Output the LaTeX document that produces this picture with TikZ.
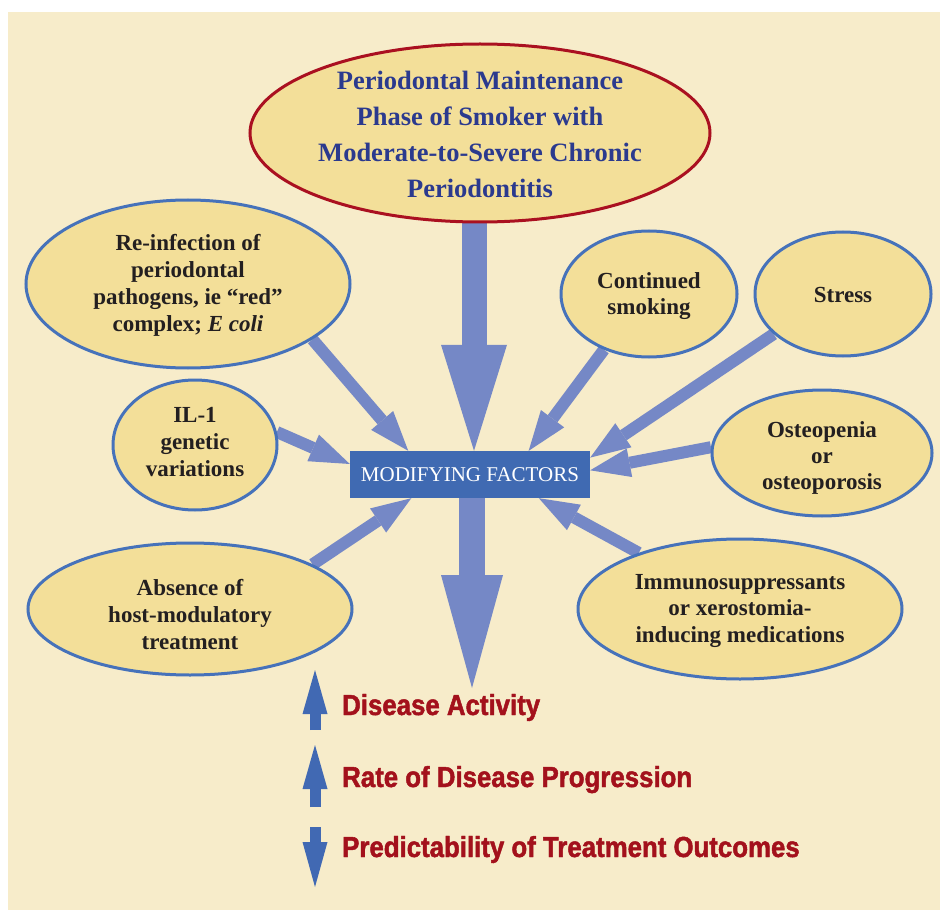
\documentclass[tikz,border=0pt]{standalone}
\usepackage{fontspec}
\setmainfont{Liberation Serif}
\newfontfamily\legendfont[FakeStretch=0.89,FakeBold=1.6]{Liberation Sans Bold}
\usetikzlibrary{shapes.geometric,arrows.meta,calc}
\definecolor{bgcream}{HTML}{F7ECCA}
\definecolor{ellfill}{HTML}{F3DF99}
\definecolor{bordblue}{HTML}{4672BA}
\definecolor{bordred}{HTML}{AA1020}
\definecolor{arrlight}{HTML}{7588C6}
\definecolor{boxblue}{HTML}{406AB2}
\definecolor{legblue}{HTML}{4169B3}
\definecolor{legred}{HTML}{A3111C}
\definecolor{topblue}{HTML}{2B3A8E}
\definecolor{darktext}{HTML}{231F20}
\pgfdeclarelayer{bglayer}
\pgfdeclarelayer{arrlayer}
\pgfsetlayers{bglayer,arrlayer,main}
\begin{document}
\begin{tikzpicture}[x=1pt,y=-1pt,
  factor/.style={ellipse, draw=bordblue, line width=3pt, fill=ellfill, inner sep=0pt},
  lbl/.style={align=center, text=darktext, inner sep=0pt, font=\fontsize{23}{27}\selectfont\bfseries},
  toplbl/.style={align=center, text=topblue, inner sep=0pt, font=\fontsize{26.5}{36}\selectfont\bfseries},
  feed/.style={draw=arrlight, line width=12pt, -{Triangle[length=40pt,width=29pt,line width=0pt]}},
  bigarrow/.style={draw=arrlight, line width=25pt, -{Triangle[length=106pt,width=66pt,line width=0pt]}},
  legarrow/.style={draw=legblue, line width=11pt, -{Triangle[length=44pt,width=25pt,line width=0pt]}},
  legtext/.style={anchor=base west, inner sep=0pt, text=legred, font=\legendfont\fontsize{29}{34}\selectfont}
]
\useasboundingbox (0,0) rectangle (940,912);
\begin{pgfonlayer}{bglayer}
  \fill[white] (0,0) rectangle (940,912);
  \fill[bgcream] (8,12) rectangle (940,910);
\end{pgfonlayer}

% ellipses
\node[factor, draw=bordred, minimum width=460pt, minimum height=178pt] (top) at (480,133) {};
\node[toplbl] (toptext) at (480,134) {Periodontal Maintenance\\Phase of Smoker with\\Moderate-to-Severe Chronic\\Periodontitis};

\node[factor, minimum width=324pt, minimum height=168pt] (reinf) at (188,284) {};
\node[lbl] (reinftext) at (188,285) {Re-infection of\\periodontal\\pathogens, ie “red”\\complex; \textit{E coli}};

\node[factor, minimum width=164pt, minimum height=130pt] (il) at (195,445) {};
\node[lbl] (iltext) at (195,442.5) {IL-1\\genetic\\variations};

\node[factor, minimum width=324pt, minimum height=132pt] (absence) at (190,609) {};
\node[lbl] (absencetext) at (190,615) {Absence of\\host-modulatory\\treatment};

\node[factor, minimum width=176pt, minimum height=126pt] (smoke) at (649,294) {};
\node[lbl, font=\fontsize{23}{26}\selectfont\bfseries] (smoketext) at (649,296) {Continued\\smoking};

\node[factor, minimum width=176pt, minimum height=124pt] (stress) at (843,294) {};
\node[lbl] (stresstext) at (843,295) {Stress};

\node[factor, minimum width=220pt, minimum height=126pt] (osteo) at (822,453) {};
\node[lbl, font=\fontsize{23}{26}\selectfont\bfseries] (osteotext) at (822,458) {Osteopenia\\or\\osteoporosis};

\node[factor, minimum width=324pt, minimum height=140pt] (immuno) at (740,609) {};
\node[lbl, font=\fontsize{23}{26.5}\selectfont\bfseries] (immunotext) at (740,611) {Immunosuppressants\\or xerostomia-\\inducing medications};

% central box
\node[fill=boxblue, text=white, minimum width=240pt, minimum height=47pt, inner sep=0pt,
      font=\fontsize{21}{24}\selectfont] (box) at (470,474.5) {MODIFYING FACTORS};

\coordinate (outcome) at (472,688);

% arrows
\begin{pgfonlayer}{arrlayer}
  \draw[bigarrow] ($(top.south)+(-6,0)$) -- ($(box.north)+(4,0)$);
  \draw[bigarrow, line width=26pt, -{Triangle[length=113pt,width=62pt,line width=0pt]}] ($(box.south)+(2,0)$) -- (outcome);
  \draw[feed] (reinf.-24) -- (box.159);
  \draw[feed] (il.9) -- (box.175);
  \draw[feed] (absence.20) -- (box.202);
  \draw[feed] (smoke.231) -- (box.22);
  \draw[feed] (stress.210) -- (box.8);
  \draw[feed] (osteo.177) -- (box.2);
  \draw[feed] (immuno.151) -- (box.-19);
\end{pgfonlayer}

% legend
\coordinate (a1s) at (315,730); \coordinate (a1e) at (315,670);
\coordinate (a2s) at (315,807); \coordinate (a2e) at (315,745);
\coordinate (a3s) at (315,827); \coordinate (a3e) at (315,887);
\draw[legarrow] (a1s) -- (a1e);
\draw[legarrow] (a2s) -- (a2e);
\draw[legarrow, -{Triangle[length=45pt,width=25pt,line width=0pt]}] (a3s) -- (a3e);
\node[legtext] (leg1) at (342,715) {Disease Activity};
\node[legtext] (leg2) at (342,787) {Rate of Disease Progression};
\node[legtext] (leg3) at (342,857) {Predictability of Treatment Outcomes};
\end{tikzpicture}
\end{document}
